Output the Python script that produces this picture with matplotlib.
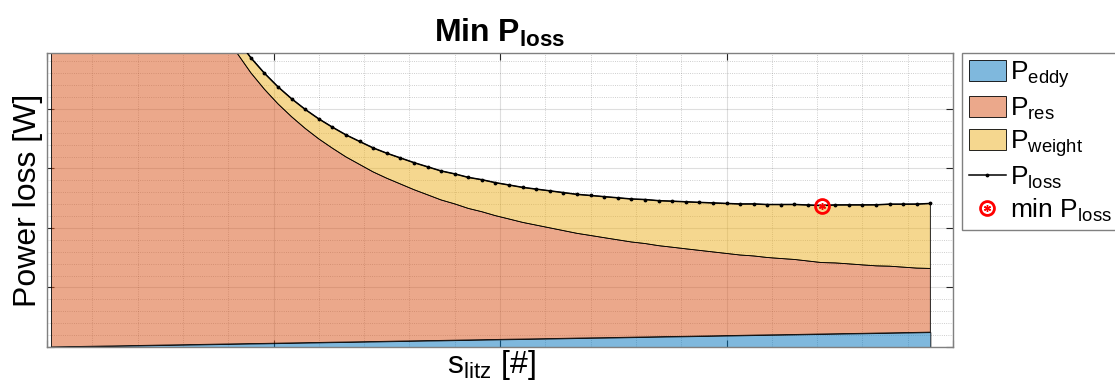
import numpy as np
import matplotlib
matplotlib.use("Agg")
import matplotlib.pyplot as plt
from matplotlib.colors import to_rgba
from matplotlib.legend_handler import HandlerTuple

# number of litz strands
s_litz = [1, 3, 6, 10, 15, 21, 28, 35, 39,
          42, 45, 48, 51, 54, 57, 60, 63, 66, 69, 72, 75, 78, 81, 84, 87, 90,
          93, 96, 99, 102, 105, 108, 111, 114, 117, 120, 123, 126, 129, 132,
          135, 138, 141, 144, 147, 150, 153, 156, 159, 162, 165, 168, 171, 174,
          177, 180, 183, 186, 189, 192, 195]

p_eddy = [0.001, 0.004, 0.008, 0.013, 0.019, 0.027, 0.036, 0.045, 0.050,
          0.054, 0.058, 0.061, 0.065, 0.069, 0.073, 0.077, 0.081, 0.084, 0.088,
          0.092, 0.096, 0.100, 0.104, 0.108, 0.111, 0.115, 0.119, 0.123, 0.127,
          0.131, 0.134, 0.138, 0.142, 0.146, 0.150, 0.154, 0.157, 0.161, 0.165,
          0.169, 0.173, 0.177, 0.180, 0.184, 0.188, 0.192, 0.196, 0.200, 0.204,
          0.207, 0.211, 0.215, 0.219, 0.223, 0.227, 0.230, 0.234, 0.238, 0.242,
          0.246, 0.250]

p_res = [204.0, 68.0, 34.0, 20.42, 13.62, 9.73, 7.31, 5.85, 5.25,
         4.88, 4.55, 4.27, 4.02, 3.80, 3.60, 3.42, 3.26, 3.11, 2.98, 2.85,
         2.74, 2.64, 2.54, 2.45, 2.36, 2.29, 2.21, 2.15, 2.08, 2.02, 1.96,
         1.91, 1.86, 1.81, 1.76, 1.72, 1.68, 1.64, 1.60, 1.57, 1.53, 1.50,
         1.47, 1.44, 1.41, 1.38, 1.35, 1.33, 1.30, 1.28, 1.26, 1.23, 1.20,
         1.19, 1.17, 1.15, 1.13, 1.12, 1.10, 1.08, 1.07]

p_weight = [0.006, 0.017, 0.034, 0.056, 0.084, 0.118, 0.157, 0.196, 0.218,
            0.235, 0.252, 0.269, 0.286, 0.302, 0.319, 0.336, 0.353, 0.370,
            0.386, 0.403, 0.420, 0.437, 0.454, 0.470, 0.487, 0.504, 0.521,
            0.538, 0.554, 0.571, 0.588, 0.605, 0.622, 0.638, 0.655, 0.672,
            0.689, 0.706, 0.722, 0.739, 0.756, 0.773, 0.790, 0.806, 0.823,
            0.840, 0.857, 0.874, 0.890, 0.907, 0.924, 0.941, 0.958, 0.974,
            0.991, 1.008, 1.025, 1.042, 1.058, 1.075, 1.092]

plt.rcParams["font.family"] = ["Liberation Sans", "DejaVu Sans"]
plt.rcParams["mathtext.fontset"] = "custom"
plt.rcParams["mathtext.rm"] = "Liberation Sans"
plt.rcParams["mathtext.it"] = "Liberation Sans"
plt.rcParams["mathtext.bf"] = "Liberation Sans:bold"

s = np.array(s_litz, dtype=float)
p_loss = np.array(p_eddy) + np.array(p_res) + np.array(p_weight)
i_min = int(np.argmin(p_loss))

fig = plt.figure(figsize=(11.15, 3.85), dpi=100)
ax = fig.add_axes([47 / 1115, 38 / 385, 906 / 1115, 294 / 385])

face = [to_rgba("#0072BD", 0.5), to_rgba("#D95319", 0.5), to_rgba("#EDB120", 0.5)]
polys = ax.stackplot(s, p_eddy, p_res, p_weight, colors=face,
                     edgecolor="black", linewidth=0.6, zorder=2)
line, = ax.plot(s, p_loss, "k.-", lw=1.1, ms=3.5, zorder=3)
ring, = ax.plot(s[i_min], p_loss[i_min], "o", mfc="none", mec="red",
                ms=10, mew=2, zorder=4)
star, = ax.plot(s[i_min], p_loss[i_min], marker=(6, 2, 0), ls="none",
                color="red", ms=5, mew=1, zorder=4)

ax.set_xlim(0, 200)
ax.set_ylim(0, 4.94)
ax.set_xticks(np.arange(0, 201, 50))
ax.set_yticks(np.arange(0, 5, 1))
ax.set_xticks(np.arange(0, 201, 10), minor=True)
ax.set_yticks(np.arange(0, 4.94, 0.2), minor=True)
ax.tick_params(which="both", direction="in", top=True, right=True,
               labelbottom=False, labelleft=False)
ax.tick_params(which="major", length=5, width=0.8, color="#262626")
ax.tick_params(which="minor", length=0)
ax.grid(which="major", color="#262626", alpha=0.15, lw=0.8)
ax.grid(which="minor", color="#262626", alpha=0.3, lw=0.6, ls=":")
ax.set_axisbelow(True)
for sp in ax.spines.values():
    sp.set_color("#808080")
    sp.set_linewidth(1.0)

ax.set_title(r"$\mathbf{Min\ P_{loss}}$", fontsize=23, pad=8)
ax.set_xlabel(r"$\mathrm{s_{litz}}$ [#]", fontsize=23, labelpad=1)
ax.xaxis.label.set_x(0.49)
ax.set_ylabel("Power loss [W]", fontsize=23, labelpad=3)

labels = [r"$\mathrm{P_{eddy}}$", r"$\mathrm{P_{res}}$", r"$\mathrm{P_{weight}}$",
          r"$\mathrm{P_{loss}}$", r"$\mathrm{min\ P_{loss}}$"]
leg = fig.legend(list(polys) + [line, (ring, star)], labels,
                 handler_map={tuple: HandlerTuple(ndivide=1)},
                 loc="upper left", bbox_to_anchor=(962 / 1115, 332 / 385),
                 borderaxespad=0, fontsize=19, fancybox=False, framealpha=1,
                 edgecolor="#808080", handlelength=1.4, handleheight=0.85,
                 handletextpad=0.15, labelspacing=0.22, borderpad=0.25)
leg.get_frame().set_linewidth(1.0)

fig.savefig("out.png", dpi=100)
